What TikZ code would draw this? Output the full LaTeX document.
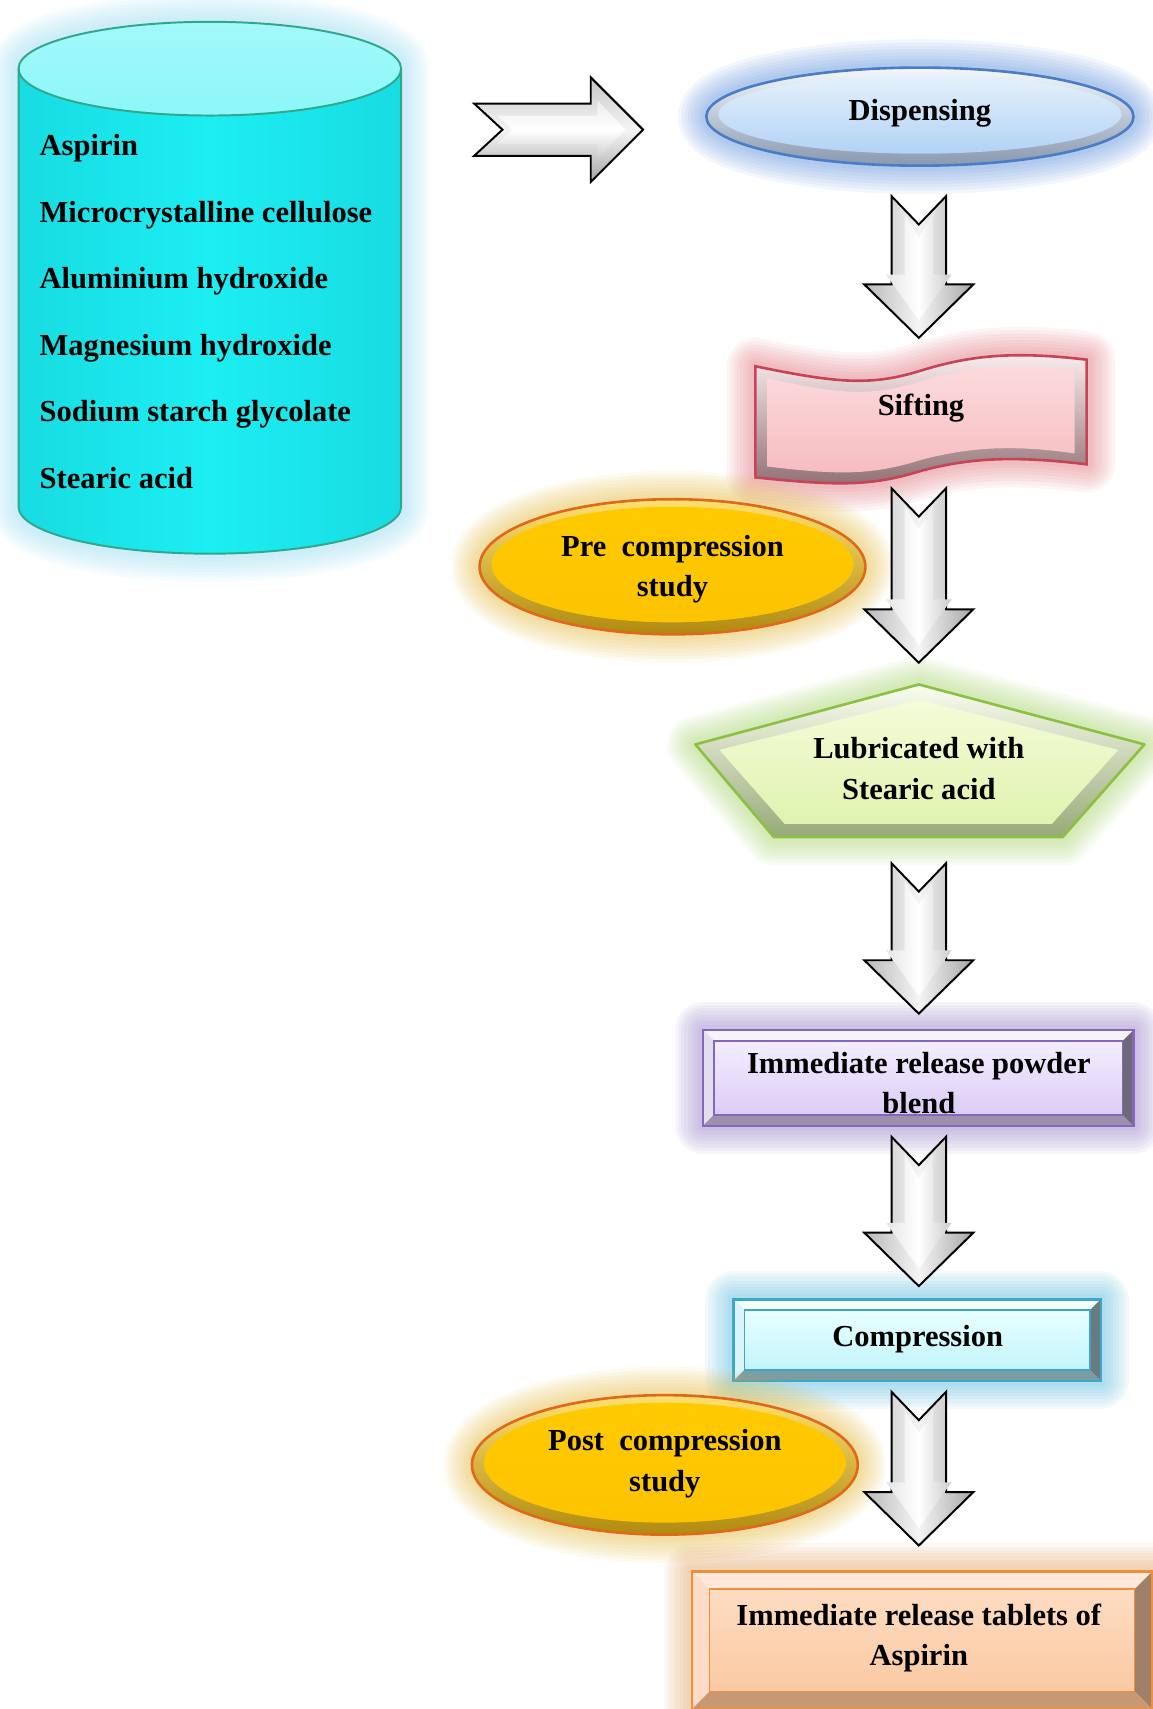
\documentclass[tikz,border=0pt]{standalone}
\usepackage{fontspec}
\setmainfont{Liberation Serif}
\usetikzlibrary{calc}

\definecolor{cylBody}{HTML}{1CEEF2}
\definecolor{cylSide}{HTML}{18DCE2}
\definecolor{cylTop}{HTML}{8CF7F9}
\definecolor{cylEdge}{HTML}{30A88C}
\definecolor{cylG}{HTML}{8ED8F0}
\definecolor{dspF1}{HTML}{E6F1FC}
\definecolor{dspF2}{HTML}{B2D2F5}
\definecolor{dspE}{HTML}{4A7CC8}
\definecolor{dspBT}{HTML}{F4F8FC}
\definecolor{dspBB}{HTML}{8898B0}
\definecolor{dspG}{HTML}{4F86D6}
\definecolor{sifF1}{HTML}{FCDCDE}
\definecolor{sifF2}{HTML}{F6BCC0}
\definecolor{sifE}{HTML}{C84454}
\definecolor{sifBT}{HTML}{FBEFF0}
\definecolor{sifBB}{HTML}{907074}
\definecolor{sifG}{HTML}{DC6A72}
\definecolor{gldF1}{HTML}{FFCA00}
\definecolor{gldF2}{HTML}{FCC400}
\definecolor{gldE}{HTML}{E06818}
\definecolor{gldBT}{HTML}{FFE070}
\definecolor{gldBB}{HTML}{B08A10}
\definecolor{gldG}{HTML}{E2B430}
\definecolor{lubF1}{HTML}{F4FBD8}
\definecolor{lubF2}{HTML}{E0F3B0}
\definecolor{lubE}{HTML}{8CC040}
\definecolor{lubBT}{HTML}{FAFDF0}
\definecolor{lubBB}{HTML}{98AA78}
\definecolor{lubG}{HTML}{9ED060}
\definecolor{powF1}{HTML}{F4EEFE}
\definecolor{powF2}{HTML}{DCCCF6}
\definecolor{powE}{HTML}{8466BE}
\definecolor{powT}{HTML}{F6F2FC}
\definecolor{powL}{HTML}{E4DDEE}
\definecolor{powR}{HTML}{6E6878}
\definecolor{powB}{HTML}{9C90AC}
\definecolor{powG}{HTML}{8E74C0}
\definecolor{cmpF1}{HTML}{E8FEFF}
\definecolor{cmpF2}{HTML}{C2F5FB}
\definecolor{cmpE}{HTML}{3CA6CC}
\definecolor{cmpT}{HTML}{F2FEFF}
\definecolor{cmpL}{HTML}{DCF4F8}
\definecolor{cmpR}{HTML}{687C80}
\definecolor{cmpB}{HTML}{7C9CA4}
\definecolor{cmpG}{HTML}{4EB4DC}
\definecolor{tabF1}{HTML}{FDDCC2}
\definecolor{tabF2}{HTML}{FBC9A2}
\definecolor{tabE}{HTML}{F0903C}
\definecolor{tabT}{HTML}{FDE8DA}
\definecolor{tabL}{HTML}{FCDCC6}
\definecolor{tabR}{HTML}{A08068}
\definecolor{tabB}{HTML}{C89872}
\definecolor{tabG}{HTML}{E09C58}

\newcommand\glowit[2]{%
  \foreach \gw in {26,23,20,17,14,11,8,5}{%
    \draw[line width=\gw pt, draw=#1, draw opacity=0.07, line join=round] #2;}}

\newcommand\bevelbox[6]{%
  \glowit{#6G}{(#1,#2) rectangle (#3,#4)}
  \fill[#6T] (#1,#2) -- (#3,#2) -- (#3-#5,#2+#5) -- (#1+#5,#2+#5) -- cycle;
  \fill[#6L] (#1,#2) -- (#1+#5,#2+#5) -- (#1+#5,#4-#5) -- (#1,#4) -- cycle;
  \fill[#6R] (#3,#2) -- (#3,#4) -- (#3-#5,#4-#5) -- (#3-#5,#2+#5) -- cycle;
  \fill[#6B] (#1,#4) -- (#3,#4) -- (#3-#5,#4-#5) -- (#1+#5,#4-#5) -- cycle;
  \shade[top color=#6F1, bottom color=#6F2] (#1+#5,#2+#5) rectangle (#3-#5,#4-#5);
  \draw[#6E, line width=0.6pt] (#1+#5,#2+#5) rectangle (#3-#5,#4-#5);
  \draw[#6E, line width=1.2pt] (#1,#2) rectangle (#3,#4);
}

\newcommand\bevelell[5]{%
  \glowit{#5G}{(#1,#2) ellipse [x radius=#3, y radius=#4]}
  \shade[top color=#5BT, bottom color=#5BB] (#1,#2) ellipse [x radius=#3, y radius=#4];
  \shade[top color=#5F1, bottom color=#5F2] (#1,#2-2) ellipse [x radius=#3-11, y radius=#4-9];
  \draw[#5E, line width=1.2pt] (#1,#2) ellipse [x radius=#3, y radius=#4];
}

\tikzset{
  lbl/.style={font=\fontsize{14}{18.5}\selectfont\bfseries, align=center, inner sep=0pt, text=black},
  ing/.style={font=\fontsize{14}{18.5}\selectfont\bfseries, anchor=base west, inner sep=0pt, text=black},
  pics/darrow/.style={code={
    \shadedraw[left color=gray!55, right color=gray!70, middle color=gray!8, draw=black, line width=0.9pt, line join=miter]
      (-25,0) -- (0,26) -- (25,0) -- (25,#1-49) -- (50,#1-49) -- (0,#1) -- (-50,#1-49) -- (-25,#1-49) -- cycle;
    \shade[left color=gray!20, right color=gray!40, middle color=white]
      (-13,16) -- (0,38) -- (13,16) -- (13,#1-58) -- (30,#1-58) -- (0,#1-16) -- (-30,#1-58) -- (-13,#1-58) -- cycle;
  }}
}

\begin{document}
\begin{tikzpicture}[x=0.5pt, y=-0.5pt]
\useasboundingbox (0,0) rectangle (1057,1568);

% ---------- cylinder ----------
\def\cylpath{(17,63) -- (17,465) .. controls (17,488.75) and (95.6,508) .. (192.5,508) .. controls (289.4,508) and (368,488.75) .. (368,465) -- (368,63) .. controls (368,39.25) and (289.4,20) .. (192.5,20) .. controls (95.6,20) and (17,39.25) .. (17,63) -- cycle}
\glowit{cylG}{\cylpath}
\shade[left color=cylSide, right color=cylSide, middle color=cylBody] \cylpath;
\shade[top color=cylTop!80!white, bottom color=cylTop] (192.5,63) ellipse [x radius=175.5, y radius=43];
\draw[cylEdge, line width=0.9pt] \cylpath;
\draw[cylEdge, line width=0.9pt] (17,63) .. controls (17,86.75) and (95.6,106) .. (192.5,106) .. controls (289.4,106) and (368,86.75) .. (368,63);

\node[ing] (i1) at (36,143) {Aspirin};
\node[ing] (i2) at (36,204) {Microcrystalline cellulose};
\node[ing] (i3) at (36,265) {Aluminium hydroxide};
\node[ing] (i4) at (36,326) {Magnesium hydroxide};
\node[ing] (i5) at (36,387) {Sodium starch glycolate};
\node[ing] (i6) at (36,448) {Stearic acid};

% ---------- right arrow ----------
\shadedraw[top color=gray!45, bottom color=gray!70, middle color=gray!8, draw=black, line width=0.9pt, line join=miter]
  (435,95) -- (542,95) -- (542,71) -- (590,119) -- (542,167) -- (542,143) -- (435,143) -- (461,119) -- cycle;
\shade[top color=gray!15, bottom color=gray!40, middle color=white]
  (456,106) -- (548,106) -- (548,92) -- (574,119) -- (548,146) -- (548,132) -- (456,132) -- (470,119) -- cycle;

% ---------- Dispensing ----------
\bevelell{844}{107}{196}{45}{dsp}
\node[lbl] (disp) at (844,104) {Dispensing};

% ---------- Sifting ----------
\def\sifout{(693,336) .. controls (770,352) and (800,354) .. (845,340) .. controls (890,326) and (930,322) .. (997,330) -- (997,426) .. controls (930,418) and (890,420) .. (845,432) .. controls (800,446) and (770,446) .. (693,438) -- cycle}
\glowit{sifG}{\sifout}
\shade[top color=sifBT, bottom color=sifBB] \sifout;
\shade[top color=sifF1, bottom color=sifF2] (704,347) .. controls (770,362) and (800,364) .. (845,350) .. controls (890,336) and (930,332) .. (986,340) -- (986,416) .. controls (930,408) and (890,410) .. (845,422) .. controls (800,436) and (770,436) .. (704,428) -- cycle;
\draw[sifE, line width=1.2pt] \sifout;
\node[lbl] (sift) at (845,374) {Sifting};

% ---------- Pre compression ----------
\bevelell{617}{520}{177}{62}{gld}
\node[lbl] (pre) at (617,522) {Pre\ \ compression\\study};

% ---------- Lubricated ----------
\def\lubout{(843,628) -- (1050,683) -- (975,768) -- (710,768) -- (638,683) -- cycle}
\glowit{lubG}{\lubout}
\shade[top color=lubBT, bottom color=lubBB] \lubout;
\shade[top color=lubF1, bottom color=lubF2] (843,642) -- (1026,688) -- (965,756) -- (720,756) -- (660,688) -- cycle;
\draw[lubE, line width=1.2pt, line join=round] \lubout;
\node[lbl] (lub) at (843,705) {Lubricated with\\Stearic acid};

% ---------- Powder blend ----------
\bevelbox{645}{945}{1040}{1033}{10}{pow}
\node[lbl] (pow) at (843,994) {Immediate release powder\\blend};

% ---------- Compression ----------
\bevelbox{673}{1192}{1010}{1267}{10}{cmp}
\node[lbl] (cmp) at (842,1229) {Compression};

% ---------- Post compression ----------
\bevelell{610}{1344}{177}{64}{gld}
\node[lbl] (post) at (610,1343) {Post\ \ compression\\study};

% ---------- Tablets ----------
\bevelbox{635}{1442}{1057}{1568}{16}{tab}
\node[lbl] (tab) at (843,1503) {Immediate release tablets of\\Aspirin};

% ---------- down arrows ----------
\coordinate (a1) at (843,180);
\coordinate (a2) at (843,448);
\coordinate (a3) at (843,792);
\coordinate (a4) at (843,1043);
\coordinate (a5) at (843,1277);
\pic at (a1) {darrow=130};
\pic at (a2) {darrow=160};
\pic at (a3) {darrow=138};
\pic at (a4) {darrow=137};
\pic at (a5) {darrow=141};
\end{tikzpicture}
\end{document}
